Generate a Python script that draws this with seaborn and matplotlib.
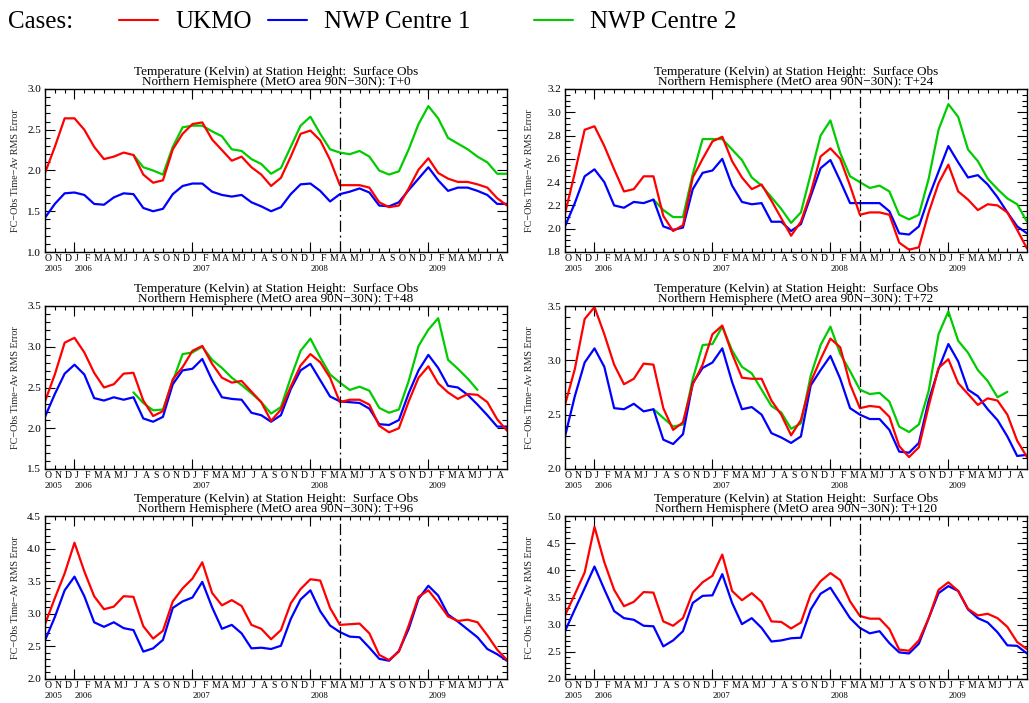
import numpy as np
import pandas as pd
import matplotlib
matplotlib.use("Agg")
import matplotlib.pyplot as plt
from matplotlib.lines import Line2D
from matplotlib.ticker import MultipleLocator, FixedLocator, FormatStrFormatter
import seaborn as sns

# ---------------- data ----------------
month_labels = list("OND" + "JFMAMJJASOND" * 3 + "JFMAMJJA")   # Oct 2005 .. Aug 2009
year_labels = ["2005", "2006", "2007", "2008", "2009"]
year_index = [0, 3, 15, 27, 39]
n_months = 48          # Oct 2005 .. Sep 2009
split_index = 30       # April 2008

series_names = ["UKMO", "NWP Centre 1", "NWP Centre 2"]
series_colors = ["#ff0000", "#0000ff", "#00cc00"]
leads = ["T+0", "T+24", "T+48", "T+72", "T+96", "T+120"]
N = None

ukmo_t0 = [1.97, 2.29, 2.64, 2.64, 2.50, 2.29, 2.14, 2.17, 2.22, 2.19, 1.95, 1.85, 1.88, 2.26, 2.45, 2.57,
           2.59, 2.38, 2.25, 2.12, 2.17, 2.04, 1.95, 1.81, 1.91, 2.17, 2.45, 2.49, 2.37, 2.13, 1.82, 1.82,
           1.82, 1.79, 1.61, 1.55, 1.57, 1.78, 2.01, 2.15, 1.97, 1.90, 1.86, 1.86, 1.83, 1.79, 1.66, 1.57]
nwp1_t0 = [1.42, 1.59, 1.72, 1.73, 1.70, 1.59, 1.58, 1.67, 1.72, 1.71, 1.54, 1.50, 1.53, 1.71, 1.81, 1.84,
           1.84, 1.74, 1.70, 1.68, 1.70, 1.61, 1.56, 1.50, 1.55, 1.71, 1.83, 1.84, 1.75, 1.62, 1.71, 1.74,
           1.78, 1.73, 1.57, 1.56, 1.61, 1.76, 1.90, 2.04, 1.88, 1.75, 1.79, 1.79, 1.75, 1.70, 1.59, 1.59]
nwp2_t0 = [N, N, N, N, N, N, N, N, N, 2.19, 2.04, 2.00, 1.95, 2.29, 2.53, 2.55,
           2.55, 2.48, 2.42, 2.26, 2.24, 2.14, 2.08, 1.96, 2.03, 2.29, 2.55, 2.66, 2.45, 2.26, 2.22, 2.20,
           2.24, 2.17, 2.00, 1.95, 1.99, 2.26, 2.57, 2.79, 2.64, 2.40, 2.33, 2.26, 2.17, 2.10, 1.96, 1.96]

ukmo_t24 = [2.13, 2.48, 2.85, 2.88, 2.71, 2.51, 2.32, 2.34, 2.45, 2.45, 2.11, 1.98, 2.03, 2.44, 2.60, 2.75,
            2.79, 2.58, 2.44, 2.34, 2.38, 2.24, 2.09, 1.94, 2.06, 2.31, 2.62, 2.69, 2.60, 2.37, 2.12, 2.14,
            2.14, 2.12, 1.88, 1.82, 1.84, 2.14, 2.39, 2.55, 2.32, 2.25, 2.16, 2.21, 2.20, 2.14, 1.99, 1.83]
nwp1_t24 = [2.02, 2.22, 2.45, 2.51, 2.40, 2.20, 2.18, 2.23, 2.22, 2.25, 2.02, 1.99, 2.01, 2.34, 2.48, 2.50,
            2.60, 2.37, 2.23, 2.21, 2.22, 2.06, 2.06, 1.98, 2.04, 2.28, 2.52, 2.59, 2.41, 2.22, 2.22, 2.22,
            2.22, 2.15, 1.96, 1.95, 2.02, 2.27, 2.49, 2.71, 2.57, 2.44, 2.46, 2.38, 2.27, 2.14, 2.02, 1.96]
nwp2_t24 = [N, N, N, N, N, N, N, N, N, 2.25, 2.16, 2.10, 2.10, 2.47, 2.77, 2.77,
            2.77, 2.68, 2.59, 2.44, 2.37, 2.27, 2.17, 2.05, 2.14, 2.47, 2.80, 2.93, 2.65, 2.45, 2.40, 2.35,
            2.37, 2.32, 2.12, 2.08, 2.12, 2.43, 2.85, 3.07, 2.96, 2.68, 2.58, 2.43, 2.34, 2.26, 2.21, 2.06]

ukmo_t48 = [2.33, 2.66, 3.05, 3.11, 2.93, 2.68, 2.50, 2.54, 2.67, 2.68, 2.34, 2.15, 2.21, 2.60, 2.75, 2.95,
            3.01, 2.79, 2.62, 2.56, 2.58, 2.45, 2.32, 2.09, 2.23, 2.51, 2.77, 2.91, 2.81, 2.62, 2.32, 2.35,
            2.35, 2.29, 2.03, 1.95, 2.00, 2.33, 2.62, 2.76, 2.55, 2.44, 2.36, 2.42, 2.41, 2.32, 2.11, 1.97]
nwp1_t48 = [2.14, 2.42, 2.67, 2.78, 2.66, 2.37, 2.34, 2.38, 2.35, 2.38, 2.12, 2.08, 2.14, 2.54, 2.71, 2.73,
            2.85, 2.59, 2.38, 2.36, 2.35, 2.19, 2.16, 2.08, 2.16, 2.48, 2.71, 2.79, 2.59, 2.39, 2.33, 2.32,
            2.31, 2.24, 2.05, 2.04, 2.10, 2.43, 2.71, 2.90, 2.74, 2.52, 2.50, 2.41, 2.29, 2.16, 2.02, 2.02]
nwp2_t48 = [N, N, N, N, N, N, N, N, N, 2.44, 2.31, 2.22, 2.23, 2.58, 2.91, 2.93,
            3.00, 2.84, 2.74, 2.62, 2.53, 2.43, 2.32, 2.18, 2.26, 2.62, 2.95, 3.10, 2.87, 2.66, 2.56, 2.47,
            2.51, 2.46, 2.25, 2.19, 2.23, 2.58, 3.01, 3.21, 3.35, 2.84, 2.73, 2.61, 2.47, N, N, N]

ukmo_t72 = [2.59, 2.92, 3.38, 3.49, 3.24, 2.96, 2.78, 2.83, 2.97, 2.96, 2.56, 2.36, 2.43, 2.78, 2.96, 3.24,
            3.32, 3.06, 2.84, 2.83, 2.83, 2.63, 2.50, 2.31, 2.45, 2.80, 3.01, 3.20, 3.12, 2.78, 2.56, 2.58,
            2.57, 2.48, 2.21, 2.11, 2.20, 2.58, 2.93, 3.01, 2.79, 2.69, 2.59, 2.65, 2.63, 2.50, 2.26, 2.11]
nwp1_t72 = [2.30, 2.67, 2.98, 3.11, 2.94, 2.56, 2.55, 2.60, 2.53, 2.55, 2.27, 2.23, 2.32, 2.79, 2.93, 2.98,
            3.11, 2.80, 2.55, 2.57, 2.50, 2.33, 2.29, 2.24, 2.30, 2.77, 2.91, 3.04, 2.83, 2.56, 2.50, 2.46,
            2.46, 2.36, 2.16, 2.15, 2.24, 2.63, 2.92, 3.15, 2.99, 2.73, 2.67, 2.55, 2.45, 2.30, 2.12, 2.13]
nwp2_t72 = [N, N, N, N, N, N, N, N, N, 2.55, 2.47, 2.39, 2.41, 2.83, 3.14, 3.15,
            3.31, 3.09, 2.94, 2.88, 2.73, 2.58, 2.52, 2.37, 2.42, 2.86, 3.14, 3.31, 3.06, 2.90, 2.73, 2.69,
            2.70, 2.62, 2.39, 2.34, 2.41, 2.72, 3.24, 3.45, 3.18, 3.07, 2.91, 2.81, 2.66, 2.71, N, N]

ukmo_t96 = [2.84, 3.24, 3.62, 4.09, 3.65, 3.27, 3.07, 3.11, 3.27, 3.26, 2.81, 2.62, 2.74, 3.19, 3.39, 3.54,
            3.79, 3.32, 3.13, 3.21, 3.12, 2.83, 2.77, 2.61, 2.75, 3.16, 3.38, 3.53, 3.51, 3.09, 2.83, 2.84,
            2.85, 2.70, 2.37, 2.29, 2.42, 2.82, 3.26, 3.36, 3.17, 2.96, 2.89, 2.91, 2.87, 2.67, 2.45, 2.29]
nwp1_t96 = [2.59, 2.95, 3.36, 3.57, 3.27, 2.87, 2.80, 2.87, 2.78, 2.75, 2.42, 2.47, 2.60, 3.09, 3.19, 3.25,
            3.49, 3.10, 2.77, 2.83, 2.70, 2.47, 2.48, 2.46, 2.51, 2.92, 3.22, 3.36, 3.04, 2.82, 2.72, 2.65,
            2.64, 2.48, 2.31, 2.28, 2.43, 2.77, 3.23, 3.43, 3.28, 2.99, 2.88, 2.76, 2.64, 2.46, 2.38, 2.28]
nwp2_t96 = [N] * 48

ukmo_t120 = [3.17, 3.56, 3.96, 4.80, 4.15, 3.64, 3.34, 3.42, 3.60, 3.59, 3.06, 2.98, 3.12, 3.59, 3.78, 3.90,
             4.29, 3.62, 3.45, 3.58, 3.42, 3.06, 3.05, 2.93, 3.04, 3.56, 3.80, 3.95, 3.82, 3.43, 3.16, 3.11,
             3.11, 2.92, 2.54, 2.52, 2.71, 3.12, 3.64, 3.78, 3.62, 3.29, 3.17, 3.20, 3.12, 2.96, 2.68, 2.55]
nwp1_t120 = [2.88, 3.28, 3.67, 4.07, 3.65, 3.25, 3.12, 3.09, 2.98, 2.97, 2.60, 2.71, 2.88, 3.40, 3.53, 3.54,
             3.93, 3.40, 3.01, 3.12, 2.94, 2.69, 2.71, 2.75, 2.76, 3.28, 3.57, 3.68, 3.40, 3.12, 2.94, 2.84,
             2.88, 2.66, 2.49, 2.47, 2.65, 3.12, 3.58, 3.71, 3.62, 3.28, 3.12, 3.04, 2.86, 2.62, 2.61, 2.47]
nwp2_t120 = [N] * 48

panel_data = [
    (ukmo_t0, nwp1_t0, nwp2_t0),
    (ukmo_t24, nwp1_t24, nwp2_t24),
    (ukmo_t48, nwp1_t48, nwp2_t48),
    (ukmo_t72, nwp1_t72, nwp2_t72),
    (ukmo_t96, nwp1_t96, nwp2_t96),
    (ukmo_t120, nwp1_t120, nwp2_t120),
]
y_limits = [(1.0, 3.0), (1.8, 3.2), (1.5, 3.5), (2.0, 3.5), (2.0, 4.5), (2.0, 5.0)]
y_major = [0.5, 0.2, 0.5, 0.5, 0.5, 0.5]
y_minor = [0.1, 0.05, 0.1, 0.1, 0.1, 0.1]

title_line1 = "Temperature (Kelvin) at Station Height:  Surface Obs"
title_line2 = "Northern Hemisphere (MetO area 90N\u221230N): "
y_label = "FC\u2212Obs Time\u2212Av RMS Error"

# ---------------- style ----------------
sns.set_style("ticks")
plt.rcParams["font.family"] = ["Liberation Serif", "DejaVu Serif"]
plt.rcParams["axes.linewidth"] = 1.0
plt.rcParams["text.color"] = "black"
plt.rcParams["xtick.color"] = "black"
plt.rcParams["ytick.color"] = "black"

W, H = 1029, 703
fig = plt.figure(figsize=(W / 100, H / 100), dpi=100)

col_left = [45, 565]
ax_w = 462
row_top = [89, 306, 516]
ax_h = 163

draw_order = [2, 1, 0]   # green, blue, red on top

for p in range(6):
    r, c = divmod(p, 2)
    left = col_left[c] / W
    bottom = 1 - (row_top[r] + ax_h) / H
    ax = fig.add_axes([left, bottom, ax_w / W, ax_h / H])

    rows = []
    for s in draw_order:
        vals = panel_data[p][s]
        for i, v in enumerate(vals):
            if v is not None:
                rows.append({"month": i, "rmse": v, "series": series_names[s]})
    df = pd.DataFrame(rows)
    present = [series_names[s] for s in draw_order if series_names[s] in set(df["series"])]
    sns.lineplot(data=df, x="month", y="rmse", hue="series", hue_order=present,
                 palette=dict(zip(series_names, series_colors)),
                 estimator=None, sort=False, linewidth=1.6, legend=False, ax=ax)

    ax.axvline(split_index, color="black", lw=0.9, linestyle=(0, (9, 3, 1.5, 3)))

    ax.set_xlim(0, n_months - 1)
    ax.set_ylim(*y_limits[p])
    ax.yaxis.set_major_locator(MultipleLocator(y_major[p]))
    ax.yaxis.set_minor_locator(MultipleLocator(y_minor[p]))
    ax.yaxis.set_major_formatter(FormatStrFormatter("%.1f"))

    ax.xaxis.remove_overlapping_locs = False
    ax.set_xticks(range(len(month_labels)))
    ax.set_xticklabels(month_labels, fontsize=7, ha="left")
    ax.xaxis.set_minor_locator(FixedLocator(year_index[1:]))

    ax.tick_params(axis="both", which="both", direction="in", top=True, right=True)
    ax.tick_params(axis="x", which="major", length=3, width=0.8, pad=1.5)
    ax.tick_params(axis="x", which="minor", length=7, width=0.8)
    ax.tick_params(axis="y", which="major", length=7, width=0.8, labelsize=8, pad=3)
    ax.tick_params(axis="y", which="minor", length=3.5, width=0.8)

    for yl, yi in zip(year_labels, year_index):
        ax.text(yi, -0.078, yl, transform=ax.get_xaxis_transform(), fontsize=6.3,
                ha="left", va="top")

    ax.set_xlabel("")
    ax.set_ylabel(y_label, fontsize=7.3)
    ax.yaxis.set_label_coords(-0.054 if c == 0 else -0.067, 0.5)
    ax.set_title(title_line1 + "\n" + title_line2 + leads[p], fontsize=9.5,
                 linespacing=0.8, pad=3)
    for sp in ax.spines.values():
        sp.set_linewidth(1.0)
        sp.set_color("black")

# ---------------- legend row ----------------
fig.text(8 / W, 1 - 28 / H, "Cases:", fontsize=18, ha="left", va="baseline")
legend_x = [119, 268, 534]
for name, col, x0 in zip(series_names, series_colors, legend_x):
    h = Line2D([], [], color=col, lw=1.5)
    fig.legend([h], [name], loc="center left", bbox_to_anchor=(x0 / W, 1 - 22 / H),
               frameon=False, fontsize=18, handlelength=1.56, handletextpad=0.68,
               borderpad=0, borderaxespad=0)

fig.savefig("out.png", dpi=100)
